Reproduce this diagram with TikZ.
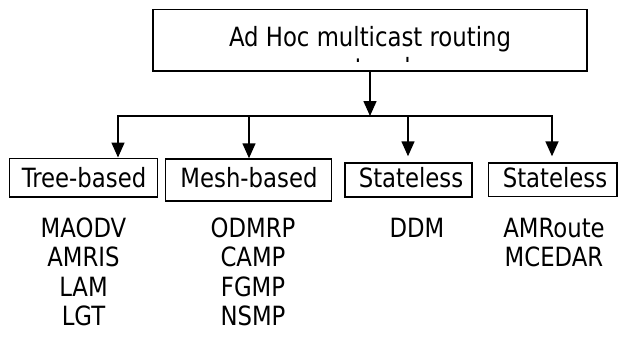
\documentclass[tikz,border=0pt]{standalone}
\usepackage{fontspec}
\setmainfont{DejaVu Sans}[FakeStretch=0.86]
\usetikzlibrary{arrows.meta}
\begin{document}
\begin{tikzpicture}[x=1pt,y=-1pt,
  box/.style={draw, line width=1.5pt, rectangle, inner sep=0pt},
  lbl/.style={font=\fontsize{26.5}{30}\selectfont, inner sep=0pt, anchor=base},
  wire/.style={line width=1.6pt, line cap=rect},
  arr/.style={line width=1.6pt, -{Triangle[width=13pt,length=15pt]}}]
\useasboundingbox (0,0) rectangle (619,338);

% root box; its two-line title overflows, so the second line is cut off
\node[box, minimum width=434pt, minimum height=61.7pt] (top) at (370,40.2) {};
\node[lbl] (title) at (370,46.7) {Ad Hoc multicast routing};
\begin{scope}
  \clip (154,11) rectangle (586,61.5);
  \node[lbl] (subtitle) at (370,77.5) {protocols};
\end{scope}

% category boxes
\node[box, minimum width=148pt, minimum height=38.7pt] (tree) at (83.3,177.6) {};
\node[box, minimum width=166pt, minimum height=42pt]   (mesh) at (248.7,180) {};
\node[box, minimum width=127pt, minimum height=34pt]   (st1)  at (408.5,180) {};
\node[box, minimum width=128.5pt, minimum height=33.5pt] (st2) at (552.8,179.8) {};

\node[lbl] (treeT) at (84,187) {Tree-based};
\node[lbl] (meshT) at (249,187.5) {Mesh-based};
\node[lbl] (st1T)  at (411,187) {Stateless};
\node[lbl] (st2T)  at (555,187) {Stateless};

% protocol lists under each category
\foreach \name [count=\i from 0] in {MAODV,AMRIS,LAM,LGT}
  \node[lbl] (tl\i) at (83.5,237+29.5*\i) {\name};
\foreach \name [count=\i from 0] in {ODMRP,CAMP,FGMP,NSMP}
  \node[lbl] (ml\i) at (253,237+29.5*\i) {\name};
\node[lbl] (sl0) at (417,237) {DDM};
\foreach \name [count=\i from 0] in {AMRoute,MCEDAR}
  \node[lbl] (rl\i) at (554,237+29.5*\i) {\name};

% connectors
\coordinate (hub) at (370,116);
\coordinate (b1) at (118,116);
\coordinate (b2) at (249,116);
\coordinate (b3) at (408,116);
\coordinate (b4) at (552,116);

\draw[arr] (top.south) -- (hub);
\draw[wire] (b1) -- (b4);
\draw[arr] (b1) -- (b1 |- tree.north);
\draw[arr] (b2) -- (b2 |- mesh.north);
\draw[arr, shorten >=6pt] (b3) -- (b3 |- st1.north);
\draw[arr, shorten >=6pt] (b4) -- (b4 |- st2.north);
\end{tikzpicture}
\end{document}
